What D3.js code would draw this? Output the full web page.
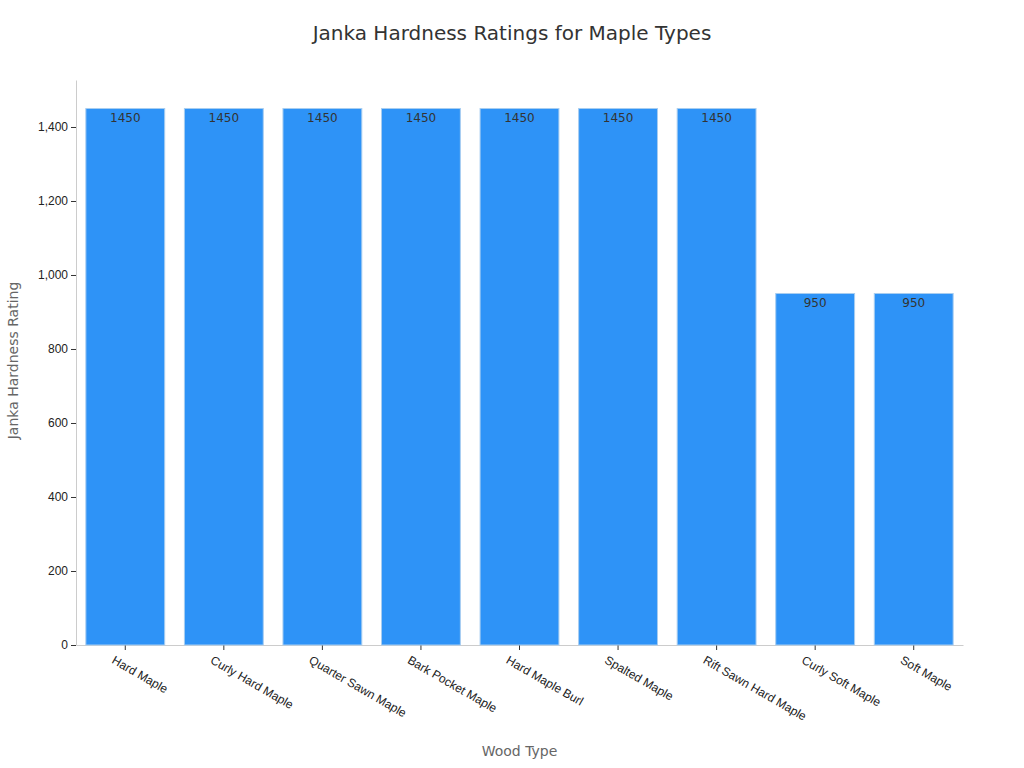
<!DOCTYPE html>
<html>
<head>
<meta charset="utf-8">
<script src="https://cdn.jsdelivr.net/npm/d3@7"></script>
<style>
  body { margin: 0; background: #fff; font-family: "DejaVu Sans", sans-serif; }
</style>
</head>
<body>
<div id="chart"></div>
<script>
const woodTypes = ['Hard Maple', 'Curly Hard Maple', 'Quarter Sawn Maple', 'Bark Pocket Maple',
    'Hard Maple Burl', 'Spalted Maple', 'Rift Sawn Hard Maple', 'Curly Soft Maple', 'Soft Maple'];
const hardness = [1450, 1450, 1450, 1450, 1450, 1450, 1450, 950, 950];
const yTicks = [0, 200, 400, 600, 800, 1000, 1200, 1400];

const data = woodTypes.map((d, i) => ({ name: d, value: hardness[i] }));

const W = 1024, H = 768;
const margin = { top: 80, right: 61, bottom: 123, left: 76 };
const width = W - margin.left - margin.right;
const height = H - margin.top - margin.bottom;

const svg = d3.select('#chart').append('svg')
    .attr('width', W).attr('height', H);

const g = svg.append('g')
    .attr('transform', `translate(${margin.left},${margin.top})`);

const x = d3.scaleBand()
    .domain(woodTypes)
    .range([0, width])
    .paddingInner(0.2)
    .paddingOuter(0.1);

const y = d3.scaleLinear()
    .domain([0, 1527])
    .range([height, 0]);

// axes
const yAxis = g.append('g')
    .call(d3.axisLeft(y).tickValues(yTicks).tickSize(5).tickSizeOuter(0));
yAxis.select('.domain').attr('stroke', '#ccc');
yAxis.selectAll('.tick line').attr('stroke', '#333');
yAxis.selectAll('text').style('font-size', '12px').attr('fill', '#222');

const xAxis = g.append('g')
    .attr('transform', `translate(0,${height})`)
    .call(d3.axisBottom(x).tickSize(5).tickSizeOuter(0));
xAxis.select('.domain').attr('stroke', '#ccc');
xAxis.selectAll('.tick line').attr('stroke', '#333');
xAxis.selectAll('text')
    .style('font-size', '12px')
    .attr('fill', '#222')
    .style('text-anchor', 'start')
    .attr('dx', '-0.3em')
    .attr('dy', '1.2em')
    .attr('transform', 'rotate(30)');

// bars
g.selectAll('.bar')
    .data(data)
    .enter().append('rect')
    .attr('class', 'bar')
    .attr('x', d => x(d.name))
    .attr('y', d => y(d.value))
    .attr('width', x.bandwidth())
    .attr('height', d => height - y(d.value))
    .attr('fill', '#2e93f7')
    .attr('stroke', '#a8cdf0')
    .attr('stroke-width', 1);

// value labels
g.selectAll('.label')
    .data(data)
    .enter().append('text')
    .attr('x', d => x(d.name) + x.bandwidth() / 2)
    .attr('y', d => y(d.value) + 14)
    .attr('text-anchor', 'middle')
    .style('font-size', '12px')
    .attr('fill', '#333')
    .text(d => d.value);

// title
svg.append('text')
    .attr('x', W / 2).attr('y', 40)
    .attr('text-anchor', 'middle')
    .style('font-size', '20px')
    .attr('fill', '#333')
    .text('Janka Hardness Ratings for Maple Types');

// axis labels
svg.append('text')
    .attr('transform', `translate(18,${margin.top + height / 2 - 2}) rotate(-90)`)
    .attr('text-anchor', 'middle')
    .style('font-size', '14px')
    .attr('fill', '#666')
    .text('Janka Hardness Rating');

svg.append('text')
    .attr('x', margin.left + width / 2).attr('y', 756)
    .attr('text-anchor', 'middle')
    .style('font-size', '14px')
    .attr('fill', '#666')
    .text('Wood Type');
</script>
</body>
</html>
